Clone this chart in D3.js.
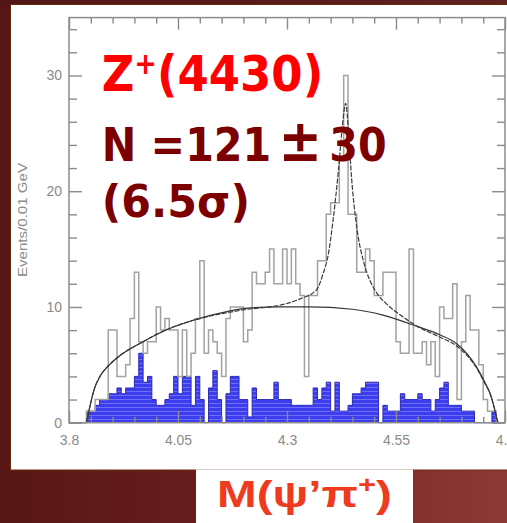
<!DOCTYPE html>
<html>
<head>
<meta charset="utf-8">
<script src="https://cdn.jsdelivr.net/npm/d3@7"></script>
<style>
  html, body { margin: 0; padding: 0; overflow: hidden; background: #5a1a1a; }
  svg { display: block; }
</style>
</head>
<body>
<svg id="chart" width="507" height="523"></svg>
<script>
// ---- data: M(psi' pi+) spectrum, 0.01 GeV bins starting at 3.80 GeV ----
const binStart = 3.80;
const binWidth = 0.01;

// all candidates (open histogram)
const totalCounts = [
  0, 0, 0, 0, 1, 1, 2, 2, 2, 8,
  8, 4, 4, 5, 9, 13, 7, 6, 7, 7,
  10, 8, 9, 8, 8, 4, 8, 4, 6, 9,
  14, 6, 8, 7, 6, 4, 9, 10, 10, 10,
  7, 8, 13, 12, 12, 13, 15, 12, 12, 15,
  12, 15, 12, 11, 4, 11, 11, 14, 14, 18,
  19, 19, 23, 30, 18, 18, 13, 13, 15, 14,
  11, 11, 13, 13, 13, 7, 6, 6, 15, 6,
  6, 7, 5, 7, 4, 10, 9, 9, 12, 2,
  7, 11, 8, 8, 5, 2, 1, 1, 0, 0
];

// sideband estimate (filled histogram)
const sidebandCounts = [
  0, 0, 0, 0, 1, 1, 1.5, 2, 2, 2.5,
  2.5, 3, 2.5, 3, 3, 4, 6, 3.5, 4, 2,
  1.5, 1.5, 2, 2.5, 4, 2.5, 4, 4, 1.5, 4,
  2, 0, 3, 4.5, 2, 0, 2.5, 4, 4, 2,
  2, 0.5, 3, 2, 2, 2, 2, 3.5, 2, 2,
  2, 1.5, 1.5, 1.5, 1.5, 1.5, 3, 2, 3, 3.5,
  1, 3.5, 1, 1, 1.5, 2.5, 2.5, 3, 3.5, 3.5,
  3.5, 0, 1.5, 1, 1, 1, 2.5, 2, 2, 2,
  2.5, 2, 2, 1, 2, 3, 3.5, 1.5, 1.5, 1.5,
  1, 1, 1, 0, 0, 0, 0, 1, 0, 0
];

// fit without resonance: [mass, events]
const backgroundFit = [
  [3.840, 0], [3.844, 0.7], [3.848, 1.4], [3.858, 2.9], [3.871, 4.0],
  [3.890, 4.9], [3.917, 5.8], [3.970, 7.0], [4.010, 7.8], [4.085, 8.85],
  [4.162, 9.6], [4.210, 9.9], [4.280, 10.0], [4.350, 10.0], [4.450, 9.8],
  [4.520, 9.3], [4.600, 8.3], [4.650, 7.6], [4.690, 6.8], [4.735, 4.8],
  [4.755, 3.4], [4.766, 2.5], [4.776, 1.2], [4.781, 0.4], [4.784, 0]
];

// fit with the Z+(4430) peak: [mass, events]
const signalFit = [
  [3.840, 0], [3.844, 0.7], [3.848, 1.4], [3.858, 2.9], [3.871, 4.0],
  [3.890, 4.9], [3.917, 5.8], [3.970, 7.0], [4.010, 7.8], [4.085, 8.85],
  [4.162, 9.5], [4.210, 9.8], [4.260, 10.0], [4.300, 10.3], [4.330, 10.7],
  [4.368, 11.5], [4.383, 12.9], [4.395, 14.6], [4.406, 17.6], [4.418, 21.8],
  [4.428, 26.0], [4.4346, 27.6], [4.441, 25.2], [4.448, 21.2], [4.460, 16.9],
  [4.475, 14.0], [4.490, 12.3], [4.506, 11.2], [4.530, 10.2], [4.560, 9.3],
  [4.600, 8.3], [4.650, 7.4], [4.690, 6.6], [4.735, 4.7], [4.755, 3.3],
  [4.766, 2.5], [4.776, 1.2], [4.781, 0.4], [4.784, 0]
];

const xMajorTicks = [3.8, 4.05, 4.3, 4.55, 4.8];
const xTickLabels = ["3.8", "4.05", "4.3", "4.55", "4.8"];
const yMajorTicks = [0, 10, 20, 30];
const yTickLabels = ["0", "10", "20", "30"];

// ---- drawing ----
const W = 507, H = 523;
const svg = d3.select("#chart");
const defs = svg.append("defs");

const bgGrad = defs.append("linearGradient").attr("id", "slideBg")
  .attr("x1", 0).attr("x2", 1).attr("y1", 0).attr("y2", 0);
bgGrad.append("stop").attr("offset", 0).attr("stop-color", "#561616");
bgGrad.append("stop").attr("offset", 0.45).attr("stop-color", "#6b1f1f");
bgGrad.append("stop").attr("offset", 1).attr("stop-color", "#8d3a36");

const stripe = defs.append("pattern").attr("id", "blueFill")
  .attr("patternUnits", "userSpaceOnUse").attr("width", 6).attr("height", 4);
stripe.append("rect").attr("width", 6).attr("height", 4).attr("fill", "#3d3df0");
stripe.append("rect").attr("y", 3).attr("width", 6).attr("height", 1).attr("fill", "#6d6df6");

svg.append("rect").attr("width", W).attr("height", H).attr("fill", "url(#slideBg)");
svg.append("rect").attr("x", 0).attr("y", 0).attr("width", W).attr("height", 5).attr("fill", "#4f1717").attr("opacity", 0.7);

// white plot card and the title tab under it
svg.append("rect").attr("x", 10.5).attr("y", 4.5).attr("width", W).attr("height", 465.5)
  .attr("fill", "#fff").attr("stroke", "#6b2c0c").attr("stroke-width", 1);
svg.append("rect").attr("x", 196).attr("y", 469.5).attr("width", 217).attr("height", 60).attr("fill", "#fff");

const x = d3.scaleLinear().domain([3.8, 4.8]).range([69, 505]);
const y = d3.scaleLinear().domain([0, 35]).range([422.7, 17.6]);

// step outline points for a binned histogram
function stepPoints(counts) {
  const pts = [];
  counts.forEach((v, i) => {
    const m0 = binStart + i * binWidth;
    pts.push([m0, v], [m0 + binWidth, v]);
  });
  return pts;
}

const plot = svg.append("g");

// sideband histogram (filled)
const sbPts = stepPoints(sidebandCounts);
plot.append("path")
  .datum(sbPts)
  .attr("d", d3.area().x(d => x(d[0])).y0(y(0)).y1(d => y(d[1])))
  .attr("fill", "url(#blueFill)");
plot.append("path")
  .datum(sbPts)
  .attr("d", d3.line().x(d => x(d[0])).y(d => y(d[1])))
  .attr("fill", "none").attr("stroke", "#2b2bb5").attr("stroke-width", 1);

// all candidates (open histogram)
plot.append("path")
  .datum(stepPoints(totalCounts))
  .attr("d", d3.line().x(d => x(d[0])).y(d => y(d[1])))
  .attr("fill", "none").attr("stroke", "#a2a2a2").attr("stroke-width", 1.5);

// fit curves
const fitLine = d3.line().x(d => x(d[0])).y(d => y(d[1])).curve(d3.curveMonotoneX);
plot.append("path").datum(backgroundFit).attr("d", fitLine)
  .attr("fill", "none").attr("stroke", "#333").attr("stroke-width", 1.2);
plot.append("path").datum(signalFit).attr("d", fitLine)
  .attr("fill", "none").attr("stroke", "#3a3a3a").attr("stroke-width", 1.2)
  .attr("stroke-dasharray", "5,1.5");

// frame and ticks (all pointing inward)
const axisColor = "#8c8c8c";
const xMinor = d3.range(3.8, 4.8001, 0.05).filter(v => !xMajorTicks.some(t => Math.abs(t - v) < 1e-6));
const yMinor = d3.range(0, 35, 2).filter(v => v % 10 !== 0);

function styleAxis(g) {
  g.select(".domain").remove();
  g.selectAll("line").attr("stroke", axisColor).attr("stroke-width", 1.4);
  g.selectAll("text").attr("fill", "#8a8a8a")
    .attr("font-family", "'Liberation Sans', Arial, sans-serif").attr("font-size", 14);
}

const y0 = y(0), yTop = y(35), xL = x(3.8), xR = x(4.8);

svg.append("g").attr("transform", `translate(0,${y0})`)
  .call(d3.axisBottom(x).tickValues(xMajorTicks).tickSize(-12).tickPadding(12)
    .tickFormat((d, i) => xTickLabels[i]))
  .call(styleAxis);
svg.append("g").attr("transform", `translate(0,${y0})`)
  .call(d3.axisBottom(x).tickValues(xMinor).tickSize(-6).tickFormat(""))
  .call(styleAxis);
svg.append("g").attr("transform", `translate(0,${yTop})`)
  .call(d3.axisTop(x).tickValues(xMajorTicks).tickSize(-12).tickFormat(""))
  .call(styleAxis);
svg.append("g").attr("transform", `translate(0,${yTop})`)
  .call(d3.axisTop(x).tickValues(xMinor).tickSize(-6).tickFormat(""))
  .call(styleAxis);

svg.append("g").attr("transform", `translate(${xL},0)`)
  .call(d3.axisLeft(y).tickValues(yMajorTicks).tickSize(-13).tickPadding(7)
    .tickFormat((d, i) => yTickLabels[i]))
  .call(styleAxis);
svg.append("g").attr("transform", `translate(${xL},0)`)
  .call(d3.axisLeft(y).tickValues(yMinor).tickSize(-8).tickFormat(""))
  .call(styleAxis);
svg.append("g").attr("transform", `translate(${xR},0)`)
  .call(d3.axisRight(y).tickValues(yMajorTicks).tickSize(-13).tickFormat(""))
  .call(styleAxis);
svg.append("g").attr("transform", `translate(${xR},0)`)
  .call(d3.axisRight(y).tickValues(yMinor).tickSize(-8).tickFormat(""))
  .call(styleAxis);

svg.append("rect").attr("x", xL).attr("y", yTop).attr("width", xR - xL).attr("height", y0 - yTop)
  .attr("fill", "none").attr("stroke", axisColor).attr("stroke-width", 1.5);

svg.append("text")
  .attr("transform", "translate(27,220) rotate(-90)")
  .attr("text-anchor", "middle")
  .attr("font-family", "'Liberation Sans', Arial, sans-serif")
  .attr("font-size", 13)
  .attr("textLength", 114).attr("lengthAdjust", "spacingAndGlyphs")
  .attr("fill", "#8a8a8a")
  .text("Events/0.01 GeV");

// place a text block so its ink spans [left, right] on the given baseline
function fitText(sel, left, right, baseline) {
  const bb = sel.node().getBBox();
  const sx = (right - left) / bb.width;
  sel.attr("transform", `translate(${left - bb.x * sx},${baseline}) scale(${sx},1)`);
}

const bigFont = "'DejaVu Sans', Verdana, sans-serif";

const t1 = svg.append("text").attr("font-family", bigFont).attr("font-weight", "bold")
  .attr("font-size", 50).attr("fill", "#ff0000");
t1.append("tspan").text("Z");
t1.append("tspan").attr("font-size", 30).attr("dy", -17).text("+");
t1.append("tspan").attr("dy", 17).text("(4430)");
fitText(t1, 101.7, 323.3, 90.7);

const t2 = svg.append("text").attr("font-family", bigFont).attr("font-weight", "bold")
  .attr("font-size", 46).attr("fill", "#7d0000");
t2.append("tspan").text("N =121");
t2.append("tspan").attr("font-size", 58).attr("dx", 8).text("±");
t2.append("tspan").attr("dx", 8).text("30");
fitText(t2, 101.7, 386.7, 160.7);

const t3 = svg.append("text").attr("font-family", bigFont).attr("font-weight", "bold")
  .attr("font-size", 44).attr("fill", "#7d0000");
t3.append("tspan").text("(6.5σ)");
fitText(t3, 101.7, 250, 216.7);

// axis title on the tab
const t4 = svg.append("text").attr("font-family", "'Liberation Sans', Arial, sans-serif")
  .attr("font-weight", "bold").attr("font-size", 37).attr("fill", "#ee3a1e");
t4.append("tspan").text("M(ψ’π");
t4.append("tspan").attr("font-size", 24).attr("dy", -14).text("+");
t4.append("tspan").attr("dy", 14).text(")");
fitText(t4, 217, 392, 506.7);
</script>
</body>
</html>
